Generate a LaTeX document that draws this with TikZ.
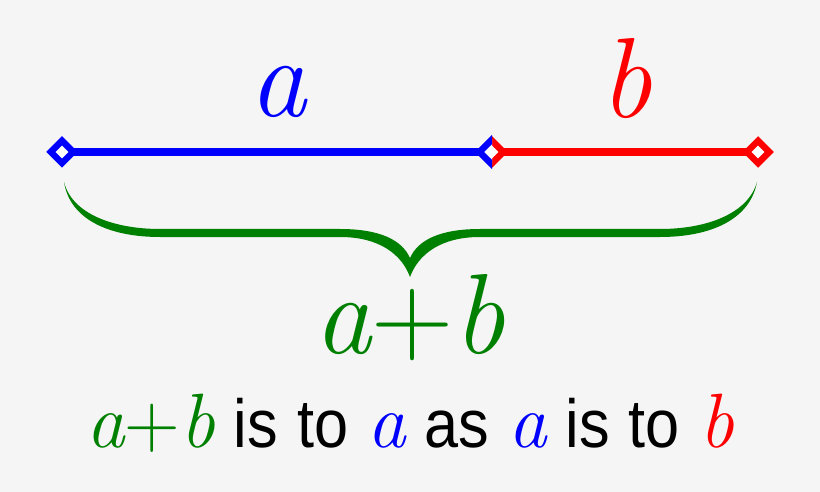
\documentclass[tikz,border=0pt]{standalone}
\usepackage{fontspec}
\setsansfont{Liberation Sans}[FakeStretch=0.9]
\usetikzlibrary{
    positioning,
    shapes.geometric
}
\definecolor{bgColour}{RGB}{245,245,245}
\definecolor{aColour}{RGB}{0,0,255}
\definecolor{bColour}{RGB}{255,0,0}
\definecolor{sumColour}{RGB}{0,128,0}
\newcommand{\bigletter}{\fontsize{114}{114}\selectfont\rmfamily\itshape}
\newcommand{\smallletter}{\fontsize{77}{77}\selectfont\rmfamily\itshape}
\pgfdeclarelayer{backdrop}
\pgfdeclarelayer{background}
\pgfsetlayers{backdrop,background,main}

\begin{document}
\begin{tikzpicture}[x=1pt, y=-1pt,
        endnode/.style={diamond, draw, fill=white, line width=6.5pt, minimum width=25pt, minimum height=25pt, inner sep=0pt},
        segline/.style={line width=8pt},
        biglabel/.style={font=\bigletter, anchor=base, inner sep=0pt},
    ]
    \begin{pgfonlayer}{backdrop}
        \fill[bgColour] (0,0) rectangle (820,492);
    \end{pgfonlayer}
    \useasboundingbox (0,0) rectangle (820,492);

    \begin{scope}
        \node[endnode, draw=aColour] (pt_left) at (62,152) {};
        \node[endnode, draw=bColour] (pt_mid) at (492,152) {};
        \node[endnode, draw=bColour] (pt_right) at (758,152) {};
    \end{scope}
    % left half of the middle point is blue
    \begin{scope}
        \clip ([shift={(-20,-20)}]pt_mid.center) rectangle ([shift={(0,20)}]pt_mid.center);
        \draw[aColour, line width=6.5pt, fill=white] ([xshift=-12.5pt]pt_mid.center) -- ++(12.5,-12.5) -- ++(12.5,12.5) -- ++(-12.5,12.5) -- cycle;
    \end{scope}

    \begin{pgfonlayer}{background}
        \draw[segline, aColour] (pt_left.center) -- (pt_mid.center);
        \draw[segline, bColour] (pt_mid.center) -- (pt_right.center);
    \end{pgfonlayer}

    % the brace
    \fill[sumColour] (64,182) .. controls (70,220) and (110,237) .. (160,237)
        -- (340,237) .. controls (380,237) and (402,255) .. (410,277)
        .. controls (418,255) and (440,237) .. (480,237)
        -- (660,237) .. controls (710,237) and (750,220) .. (757,182)
        .. controls (748,214) and (706,229) .. (660,229)
        -- (480,229) .. controls (440,229) and (418,240) .. (410,258)
        .. controls (402,240) and (380,229) .. (340,229)
        -- (160,229) .. controls (114,229) and (72,214) .. (64,182) -- cycle;

    \node[biglabel, text=aColour] (lbl_a) at (278,117) {a};
    \node[biglabel, text=bColour] (lbl_b) at (626,118) {b};
    \node[biglabel, text=sumColour] (lbl_sum) at (410,353) {a\upshape+\itshape b};

    \node[anchor=base, inner sep=0pt, font=\fontsize{68}{68}\selectfont\sffamily] (ratio_line) at (410,447)
        {\spaceskip=19pt\relax\textcolor{sumColour}{\smallletter a\upshape+\itshape b} is to \textcolor{aColour}{\smallletter a} as \textcolor{aColour}{\smallletter a} is to \textcolor{bColour}{\smallletter b}};
\end{tikzpicture}
\end{document}
